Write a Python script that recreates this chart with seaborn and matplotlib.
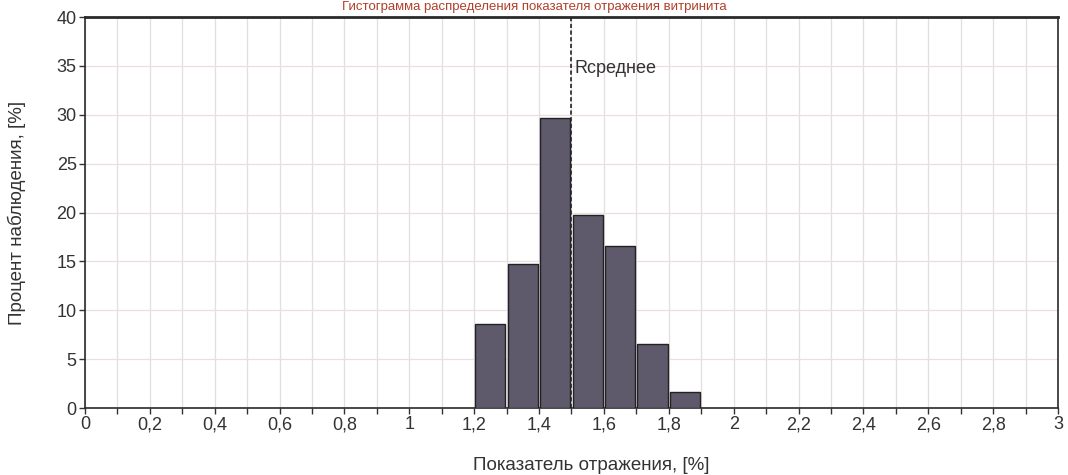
import numpy as np
import pandas as pd
import matplotlib
matplotlib.use("Agg")
import matplotlib.pyplot as plt
import seaborn as sns
from matplotlib.ticker import MultipleLocator, FuncFormatter

# histogram bins (left edges) and percent of observations
bin_left = [1.2, 1.3, 1.4, 1.5, 1.6, 1.7, 1.8]
percent = [8.6, 14.7, 29.7, 19.7, 16.6, 6.6, 1.6]
r_mean = 1.5

title = "Гистограмма распределения показателя отражения витринита"
x_label = "Показатель отражения, [%]"
y_label = "Процент наблюдения, [%]"
mean_label = "Rсреднее"

df = pd.DataFrame({"x": [b + 0.05 for b in bin_left], "pct": percent})

sns.set_style("white")
plt.rcParams["font.family"] = ["Liberation Sans", "DejaVu Sans"]

fig = plt.figure(figsize=(10.68, 4.75), dpi=100)
ax = fig.add_axes([0.0796, 0.141, 0.911, 0.823])

sns.histplot(data=df, x="x", weights="pct", binwidth=0.1, binrange=(1.2, 1.9),
             shrink=0.93, color="#5e5a6b", edgecolor="#222222", linewidth=1.0,
             alpha=1.0, ax=ax, zorder=3)

ax.axvline(r_mean, color="#222222", linestyle=(0, (2.5, 1.5)), linewidth=1.2, zorder=4)
ax.text(r_mean + 0.01, 34.3, mean_label, fontsize=13, color="#333333", zorder=5)

ax.set_xlim(0, 3)
ax.set_ylim(0, 40)
ax.xaxis.set_major_locator(MultipleLocator(0.1))
ax.yaxis.set_major_locator(MultipleLocator(5))


def fmt_x(v, pos):
    k = int(round(v * 10))
    if k % 2:
        return ""
    s = f"{v:.1f}".rstrip("0").rstrip(".")
    return s.replace(".", ",")


ax.xaxis.set_major_formatter(FuncFormatter(fmt_x))
ax.grid(True, axis="x", color="#e6dde2", linewidth=0.9, zorder=0)
ax.grid(True, axis="y", color="#ecdede", linewidth=0.9, zorder=0)
ax.set_axisbelow(True)
ax.tick_params(axis="both", direction="out", length=4, width=1, labelsize=13,
               bottom=True, left=True, colors="#333333", pad=2)
for s in ax.spines.values():
    s.set_color("#2a2a2a")
    s.set_linewidth(1.2)
ax.spines["top"].set_linewidth(2)

ax.set_xlabel(x_label, fontsize=13.5, color="#333333", va="center")
ax.set_ylabel(y_label, fontsize=13.5, color="#333333", va="center")
ax.xaxis.set_label_coords(0.52, -0.146)
ax.yaxis.set_label_coords(-0.07, 0.5)

fig.text(0.5, 0.986, title, ha="center", va="center", fontsize=9.5, color="#b0402a")

fig.savefig("out.png", dpi=100)
